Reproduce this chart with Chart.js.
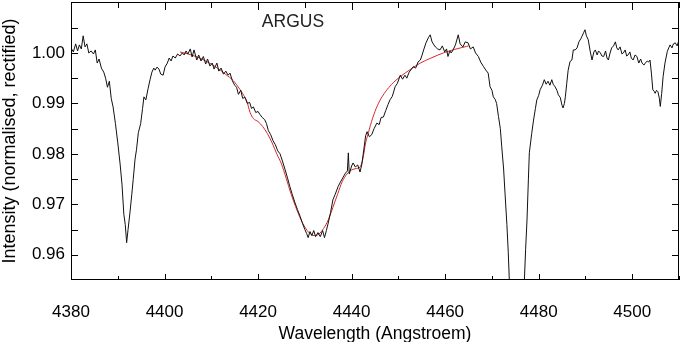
<!DOCTYPE html>
<html>
<head>
<meta charset="utf-8">
<script src="https://cdn.jsdelivr.net/npm/chart.js@4.4.1/dist/chart.umd.min.js"></script>
<style>
  html, body { margin: 0; padding: 0; background: #fff; }
  #wrap { width: 681px; height: 342px; }
</style>
</head>
<body>
<div id="wrap"><canvas id="spectrumChart"></canvas></div>
<script>
// Observed spectrum (black)
const wavelength = [
    4380.0, 4380.5, 4381.0, 4381.4, 4381.8, 4382.2, 4382.6, 4383.0, 4383.4, 4383.8,
    4384.3, 4384.8, 4385.2, 4385.6, 4386.0, 4386.5, 4387.0, 4387.4, 4387.8, 4388.2,
    4388.6, 4389.0, 4389.5, 4390.0, 4390.5, 4390.9, 4391.3, 4391.6, 4391.9, 4392.2,
    4392.6, 4393.0, 4393.3, 4393.7, 4394.0, 4394.4, 4394.9, 4395.3, 4395.6, 4396.0,
    4396.5, 4396.9, 4397.3, 4397.7, 4398.0, 4398.4, 4398.8, 4399.2, 4399.7, 4400.1,
    4400.6, 4401.0, 4401.4, 4401.8, 4402.3, 4402.8, 4403.3, 4403.8, 4404.2, 4404.6,
    4405.0, 4405.5, 4405.9, 4406.3, 4406.9, 4407.3, 4407.8, 4408.3, 4408.8, 4409.2,
    4409.7, 4410.2, 4410.6, 4411.2, 4411.6, 4412.1, 4412.6, 4413.1, 4413.6, 4414.0,
    4414.5, 4415.0, 4415.4, 4415.8, 4416.3, 4416.7, 4417.2, 4417.7, 4418.2, 4418.6,
    4419.0, 4419.5, 4420.0, 4420.4, 4420.9, 4421.4, 4421.8, 4422.2, 4422.7, 4423.2,
    4423.7, 4424.2, 4424.7, 4425.2, 4425.8, 4426.3, 4426.8, 4427.3, 4427.9, 4428.4,
    4429.0, 4429.5, 4430.0, 4430.4, 4430.7, 4431.1, 4431.5, 4431.9, 4432.3, 4432.8,
    4433.3, 4433.8, 4434.2, 4434.6, 4435.0, 4435.5, 4436.0, 4436.5, 4437.1, 4437.6,
    4438.2, 4438.7, 4439.1, 4439.3, 4439.5, 4440.0, 4440.3, 4440.8, 4441.3, 4441.8,
    4442.2, 4442.6, 4443.0, 4443.3, 4443.8, 4444.3, 4444.8, 4445.4, 4445.9, 4446.3,
    4446.8, 4447.3, 4447.8, 4448.2, 4448.7, 4449.3, 4449.8, 4450.4, 4450.9, 4451.4,
    4451.8, 4452.3, 4452.8, 4453.2, 4453.7, 4454.2, 4454.7, 4455.0, 4455.4, 4455.9,
    4456.4, 4456.8, 4457.2, 4457.6, 4457.9, 4458.4, 4458.9, 4459.4, 4459.9, 4460.3,
    4460.6, 4461.0, 4461.3, 4461.7, 4462.2, 4462.8, 4463.2, 4463.8, 4464.3, 4464.9,
    4465.4, 4466.0, 4466.5, 4467.1, 4467.6, 4468.2, 4468.7, 4469.2, 4469.6, 4470.0,
    4470.3, 4470.7, 4471.0, 4471.4, 4471.8, 4472.1, 4472.5, 4472.8, 4473.2, 4473.5,
    4473.8, 4474.4, 4475.2, 4476.2, 4476.9, 4477.2, 4477.5, 4477.8, 4478.0, 4478.5,
    4478.9, 4479.3, 4479.6, 4480.0, 4480.3, 4480.8, 4481.2, 4481.6, 4482.0, 4482.4,
    4482.8, 4483.1, 4483.5, 4483.9, 4484.2, 4484.6, 4485.0, 4485.2, 4485.5, 4485.7,
    4486.0, 4486.3, 4486.7, 4487.1, 4487.4, 4487.8, 4488.2, 4488.6, 4489.0, 4489.2,
    4489.6, 4489.9, 4490.2, 4490.6, 4491.0, 4491.4, 4491.8, 4492.1, 4492.5, 4492.8,
    4493.2, 4493.5, 4493.9, 4494.3, 4494.6, 4494.9, 4495.2, 4495.6, 4496.0, 4496.4,
    4496.7, 4497.0, 4497.4, 4497.8, 4498.1, 4498.5, 4498.8, 4499.1, 4499.5, 4499.8,
    4500.2, 4500.6, 4501.0, 4501.4, 4501.8, 4502.1, 4502.5, 4502.8, 4503.2, 4503.5,
    4503.8, 4504.1, 4504.4, 4504.7, 4504.9, 4505.2, 4505.5, 4505.8, 4506.0, 4506.3,
    4506.6, 4507.0, 4507.5, 4507.8, 4508.1, 4508.5, 4508.8, 4509.2, 4509.6, 4510.0
];
const intensity = [
    1.0010, 1.0002, 1.0018, 1.0004, 1.0016, 1.0008, 1.0034, 1.0012, 1.0018, 1.0000,
    1.0004, 0.9998, 1.0006, 0.9980, 0.9988, 0.9970, 0.9962, 0.9950, 0.9932, 0.9944,
    0.9910, 0.9893, 0.9860, 0.9822, 0.9780, 0.9740, 0.9680, 0.9660, 0.9624, 0.9650,
    0.9683, 0.9720, 0.9749, 0.9790, 0.9808, 0.9842, 0.9860, 0.9890, 0.9913, 0.9907,
    0.9930, 0.9947, 0.9962, 0.9970, 0.9966, 0.9972, 0.9968, 0.9958, 0.9956, 0.9972,
    0.9980, 0.9990, 0.9984, 0.9994, 0.9990, 0.9998, 0.9994, 1.0000, 0.9996, 1.0004,
    0.9998, 1.0008, 0.9992, 1.0006, 0.9986, 0.9996, 0.9984, 0.9993, 0.9978, 0.9988,
    0.9974, 0.9980, 0.9968, 0.9980, 0.9964, 0.9970, 0.9958, 0.9964, 0.9956, 0.9960,
    0.9945, 0.9936, 0.9932, 0.9918, 0.9926, 0.9910, 0.9912, 0.9900, 0.9902, 0.9890,
    0.9893, 0.9882, 0.9884, 0.9878, 0.9872, 0.9868, 0.9860, 0.9846, 0.9838, 0.9826,
    0.9818, 0.9806, 0.9800, 0.9786, 0.9768, 0.9752, 0.9735, 0.9720, 0.9703, 0.9690,
    0.9676, 0.9662, 0.9650, 0.9642, 0.9634, 0.9646, 0.9638, 0.9648, 0.9636, 0.9644,
    0.9636, 0.9648, 0.9634, 0.9648, 0.9663, 0.9684, 0.9709, 0.9720, 0.9735, 0.9744,
    0.9754, 0.9762, 0.9766, 0.9802, 0.9760, 0.9776, 0.9782, 0.9774, 0.9778, 0.9764,
    0.9780, 0.9808, 0.9836, 0.9844, 0.9834, 0.9838, 0.9850, 0.9861, 0.9858, 0.9872,
    0.9873, 0.9886, 0.9898, 0.9907, 0.9914, 0.9933, 0.9940, 0.9956, 0.9948, 0.9956,
    0.9950, 0.9962, 0.9968, 0.9973, 0.9970, 0.9982, 0.9986, 0.9994, 1.0006, 1.0020,
    1.0030, 1.0036, 1.0022, 1.0016, 1.0012, 1.0008, 1.0006, 1.0014, 1.0002, 1.0008,
    0.9993, 1.0004, 1.0000, 1.0006, 1.0016, 1.0036, 1.0018, 1.0012, 1.0022, 1.0020,
    1.0008, 1.0012, 1.0000, 0.9993, 0.9982, 0.9973, 0.9966, 0.9960, 0.9933, 0.9926,
    0.9913, 0.9908, 0.9900, 0.9874, 0.9850, 0.9814, 0.9770, 0.9722, 0.9660, 0.9604,
    0.9530, 0.9420, 0.9380, 0.9420, 0.9540, 0.9610, 0.9669, 0.9750, 0.9802, 0.9840,
    0.9867, 0.9890, 0.9907, 0.9916, 0.9927, 0.9936, 0.9947, 0.9938, 0.9944, 0.9936,
    0.9947, 0.9938, 0.9933, 0.9926, 0.9917, 0.9912, 0.9896, 0.9891, 0.9900, 0.9913,
    0.9940, 0.9966, 0.9983, 0.9986, 1.0006, 1.0006, 1.0010, 1.0022, 1.0028, 1.0032,
    1.0040, 1.0046, 1.0034, 1.0026, 1.0004, 0.9986, 1.0002, 1.0006, 0.9996, 1.0004,
    1.0000, 0.9994, 0.9993, 1.0004, 0.9990, 0.9986, 0.9998, 1.0010, 1.0014, 1.0022,
    1.0010, 1.0006, 1.0012, 0.9998, 1.0000, 1.0006, 0.9994, 0.9996, 1.0002, 0.9990,
    0.9986, 0.9996, 0.9993, 0.9980, 0.9988, 0.9980, 0.9976, 0.9980, 0.9984, 0.9982,
    0.9986, 0.9960, 0.9927, 0.9924, 0.9920, 0.9926, 0.9923, 0.9910, 0.9894, 0.9920,
    0.9953, 0.9980, 1.0003, 1.0010, 1.0016, 1.0010, 1.0018, 1.0020, 1.0014, 1.0026
];

// Model fit (red)
const fitWavelength = [
    4403.3, 4405.0, 4407.0, 4409.0, 4411.0, 4413.0, 4414.7, 4416.1, 4417.0, 4417.6,
    4418.3, 4419.0, 4420.0, 4421.0, 4422.0, 4423.0, 4424.0, 4425.0, 4426.0, 4427.0,
    4428.0, 4429.0, 4430.0, 4431.0, 4432.0, 4433.0, 4434.0, 4435.0, 4436.0, 4437.0,
    4438.0, 4439.0, 4440.0, 4441.0, 4441.8, 4442.4, 4443.0, 4443.6, 4444.0, 4445.0,
    4446.0, 4447.0, 4448.0, 4449.0, 4450.4, 4452.5, 4454.7, 4457.0, 4459.6, 4462.0,
    4464.6, 4465.0
];
const fitIntensity = [
    1.0002, 0.9998, 0.9992, 0.9983, 0.9972, 0.9958, 0.9945, 0.9928, 0.9915, 0.9904,
    0.9882, 0.9870, 0.9864, 0.9854, 0.9840, 0.9822, 0.9800, 0.9780, 0.9752, 0.9722,
    0.9696, 0.9673, 0.9655, 0.9643, 0.9638, 0.9641, 0.9652, 0.9669, 0.9694, 0.9720,
    0.9745, 0.9760, 0.9768, 0.9771, 0.9774, 0.9790, 0.9822, 0.9842, 0.9856, 0.9884,
    0.9905, 0.9920, 0.9932, 0.9942, 0.9953, 0.9967, 0.9980, 0.9990, 1.0000, 1.0007,
    1.0013, 1.0014
];

// Axis ticks
const xTicks = [4380, 4390, 4400, 4410, 4420, 4430, 4440, 4450, 4460, 4470, 4480, 4490, 4500, 4510];
const xLabels = [4380, 4400, 4420, 4440, 4460, 4480, 4500];
const yTicks = [0.960, 0.965, 0.970, 0.975, 0.980, 0.985, 0.990, 0.995, 1.000, 1.005];
const yLabels = [0.96, 0.97, 0.98, 0.99, 1.00];

const FONT = '"Liberation Sans", Arial, Helvetica, sans-serif';
Chart.defaults.font.family = FONT;
Chart.defaults.color = '#000';

const isLabel = (list, v) => list.some(l => Math.abs(l - v) < 1e-6);

// Box frame with inward ticks on all four sides, plus the ARGUS tag
const frameTicks = {
    id: 'frameTicks',
    afterDatasetsDraw(chart) {
        const { ctx, chartArea: a, scales: { x, y } } = chart;
        ctx.save();
        ctx.strokeStyle = '#000';
        ctx.lineWidth = 1;
        ctx.strokeRect(a.left + 0.5, a.top + 0.5, a.right - a.left - 1, a.bottom - a.top - 1);
        ctx.beginPath();
        xTicks.forEach(v => {
            const px = Math.round(x.getPixelForValue(v)) + 0.5;
            const len = isLabel(xLabels, v) ? 6 : 4;
            ctx.moveTo(px, a.bottom); ctx.lineTo(px, a.bottom - len);
            ctx.moveTo(px, a.top); ctx.lineTo(px, a.top + len + 2);
        });
        yTicks.forEach(v => {
            const py = Math.round(y.getPixelForValue(v)) + 0.5;
            ctx.moveTo(a.left, py); ctx.lineTo(a.left + 7, py);
            ctx.moveTo(a.right, py); ctx.lineTo(a.right - 7, py);
        });
        ctx.stroke();

        ctx.fillStyle = '#222';
        ctx.font = '17.5px ' + FONT;
        ctx.textBaseline = 'middle';
        ctx.fillText('ARGUS', x.getPixelForValue(4420.8), y.getPixelForValue(1.0062));
        ctx.restore();
    }
};

new Chart(document.getElementById('spectrumChart'), {
    type: 'line',
    data: {
        datasets: [
            {
                label: 'Observed',
                data: wavelength.map((w, i) => ({ x: w, y: intensity[i] })),
                borderColor: '#111',
                borderWidth: 1,
                pointRadius: 0,
                tension: 0
            },
            {
                label: 'Fit',
                data: fitWavelength.map((w, i) => ({ x: w, y: fitIntensity[i] })),
                borderColor: '#d42a2a',
                borderWidth: 1,
                pointRadius: 0,
                cubicInterpolationMode: 'monotone'
            }
        ]
    },
    options: {
        responsive: true,
        maintainAspectRatio: false,
        animation: false,
        layout: { padding: { top: 2, right: 2, left: 0, bottom: 0 } },
        plugins: {
            legend: { display: false },
            tooltip: { enabled: false }
        },
        scales: {
            x: {
                type: 'linear',
                min: 4380,
                max: 4510,
                grid: { display: false, drawTicks: false },
                border: { display: false },
                afterBuildTicks: scale => { scale.ticks = xTicks.map(v => ({ value: v })); },
                afterFit: scale => {
                    scale.height = 62;
                    scale.paddingLeft = 0;
                    scale.paddingRight = 0;
                },
                ticks: {
                    autoSkip: false,
                    maxRotation: 0,
                    padding: 22,
                    font: { size: 17 },
                    callback: v => isLabel(xLabels, v) ? String(v) : ''
                },
                title: {
                    display: true,
                    text: 'Wavelength (Angstroem)',
                    font: { size: 17.5, lineHeight: 1 },
                    padding: { top: 0, bottom: -1 }
                }
            },
            y: {
                min: 0.955,
                max: 1.0101,
                grid: { display: false, drawTicks: false },
                border: { display: false },
                afterBuildTicks: scale => { scale.ticks = yTicks.map(v => ({ value: v })); },
                afterFit: scale => {
                    scale.width = 71;
                    scale.paddingTop = 0;
                    scale.paddingBottom = 0;
                },
                ticks: {
                    autoSkip: false,
                    padding: 6,
                    font: { size: 17 },
                    callback: v => isLabel(yLabels, v) ? v.toFixed(2) : ''
                },
                title: {
                    display: true,
                    text: 'Intensity (normalised, rectified)',
                    font: { size: 18, lineHeight: 1 },
                    padding: { top: 1, bottom: 0 }
                }
            }
        }
    },
    plugins: [frameTicks]
});
</script>
</body>
</html>
